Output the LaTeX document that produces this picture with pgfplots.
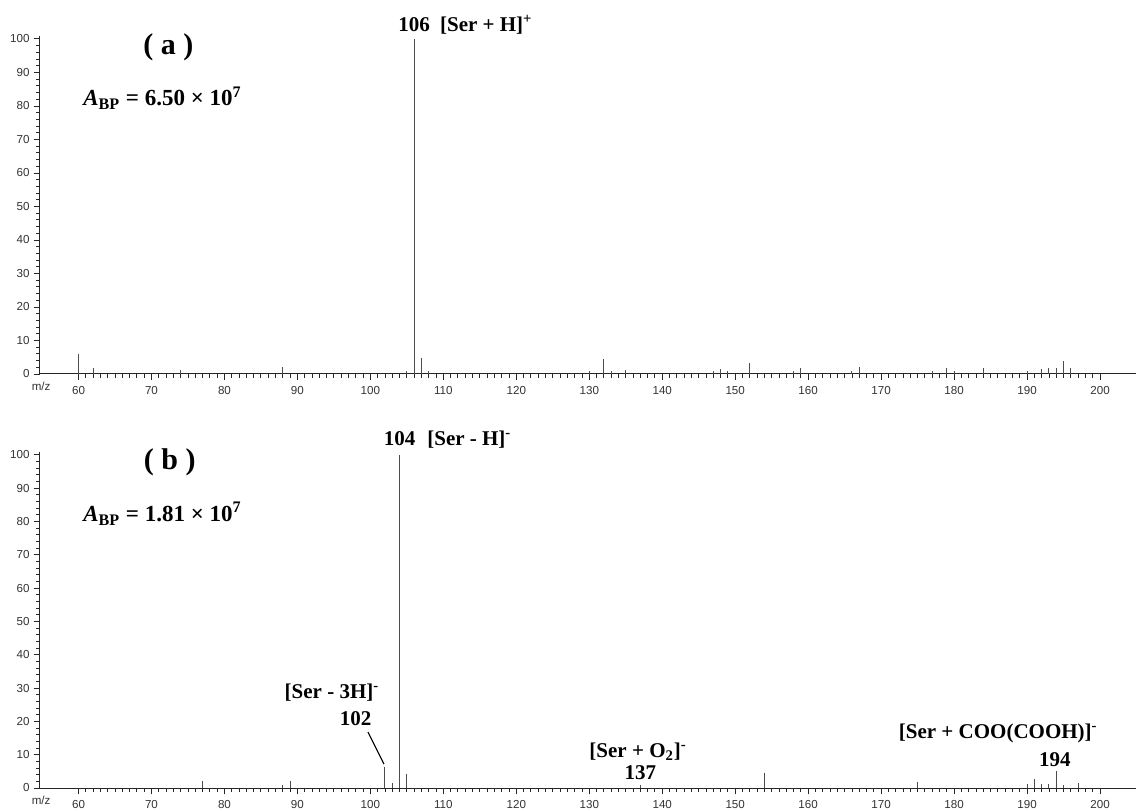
\documentclass[border=0pt]{standalone}
\usepackage{pgfplots}
\pgfplotsset{compat=1.18}
\usepackage{fontspec}
\setmainfont{Liberation Serif}
\newfontfamily\ticksf{Liberation Sans}

\definecolor{peak}{gray}{0.3}
\definecolor{tickgray}{gray}{0.2}

\tikzset{
  ann/.style={font=\fontsize{10.5}{12}\selectfont\bfseries, inner sep=0pt},
  panel/.style={font=\fontsize{15}{17}\selectfont\bfseries, inner sep=0pt},
  abp/.style={font=\fontsize{11.5}{13}\selectfont\bfseries, inner sep=0pt},
  mz/.style={font=\ticksf\fontsize{5.8}{6.5}\selectfont, text=tickgray, inner sep=0pt},
}

\pgfplotsset{
  msstyle/.style={
    scale only axis, width=548pt, anchor=south west,
    xmin=54.72, xmax=204.93, ymin=0, ymax=101,
    axis x line*=bottom, axis y line*=left,
    axis line style={black!85, line width=0.5pt},
    xtick={60,70,...,200}, minor x tick num=9,
    ytick={0,10,...,100}, minor y tick num=4,
    tick align=outside, major tick length=3.2pt, minor tick length=1.8pt,
    tick style={black!85, line width=0.45pt},
    ticklabel style={font=\ticksf\fontsize{5.8}{6.5}\selectfont, text=tickgray},
    xticklabel style={yshift=0.5pt},
    yticklabel style={xshift=1.5pt},
    /pgf/number format/assume math mode=true,
    clip=false,
  },
  peaks/.style={ycomb, mark=none, color=peak, line width=0.5pt},
}

\begin{document}
\begin{tikzpicture}
\useasboundingbox (0,0) rectangle (568pt,405pt);

% (a) positive ion mode
\begin{axis}[msstyle, at={(20pt,218pt)}, height=169.2pt]
\addplot[peaks] coordinates {
  (60,6.1) (62,1.7) (74,1.2) (88,2.2) (105,1.0) (106,100) (107,4.8) (108,1.0)
  (130,1.0) (132,4.6) (133,1.0) (135,1.2) (147,1.0) (148,1.4) (149,0.8)
  (152,3.3) (158,1.0) (159,1.9) (166,1.0) (167,2.2) (177,1.0) (179,1.9)
  (180,1.0) (184,1.7) (190,1.0) (192,1.4) (193,1.7) (194,1.7) (195,3.8) (196,1.9)
};
\node[ann, anchor=base] at (axis cs:106,102.1) {106};
\node[ann, anchor=base west] at (axis cs:109.5,102.1) {[Ser + H]\textsuperscript{+}};
\node[panel] at (axis cs:72.3,97.6) {( a )};
\node[abp, anchor=base west] at (axis cs:60.6,80) {\textit{A}\textsubscript{BP} = 6.50 × 10\textsuperscript{7}};
\node[mz, yshift=-6pt] at (rel axis cs:0.001,0) {m/z};
\end{axis}

% (b) negative ion mode
\begin{axis}[msstyle, at={(20pt,11pt)}, height=168.2pt]
\addplot[peaks] coordinates {
  (77,2.2) (88,1.0) (89,2.0) (102,6.3) (103,1.5) (104,100) (105,4.2)
  (137,1.0) (154,4.5) (175,1.8) (190,1.3) (191,2.8) (192,1.3) (193,1.2)
  (194,5.2) (195,0.8) (197,1.5)
};
\node[ann, anchor=base] at (axis cs:104,102.7) {104};
\node[ann, anchor=base west] at (axis cs:107.75,102.7) {[Ser - H]\textsuperscript{-}};
\node[panel] at (axis cs:72.5,97.9) {( b )};
\node[abp, anchor=base west] at (axis cs:60.6,80) {\textit{A}\textsubscript{BP} = 1.81 × 10\textsuperscript{7}};
\node[ann, anchor=base] at (axis cs:94.74,27) {[Ser - 3H]\textsuperscript{-}};
\node[ann, anchor=base] at (axis cs:97.96,18.9) {102};
\draw[black, line width=0.6pt] (axis cs:99.67,16.8) -- (axis cs:101.86,7.2);
\node[ann, anchor=base] at (axis cs:136.7,9.3) {[Ser + O\textsubscript{2}]\textsuperscript{-}};
\node[ann, anchor=base] at (axis cs:137,2.7) {137};
\node[ann, anchor=base] at (axis cs:186.05,15.0) {[Ser + COO(COOH)]\textsuperscript{-}};
\node[ann, anchor=base] at (axis cs:193.8,6.6) {194};
\node[mz, yshift=-6pt] at (rel axis cs:0.001,0) {m/z};
\end{axis}
\end{tikzpicture}
\end{document}
